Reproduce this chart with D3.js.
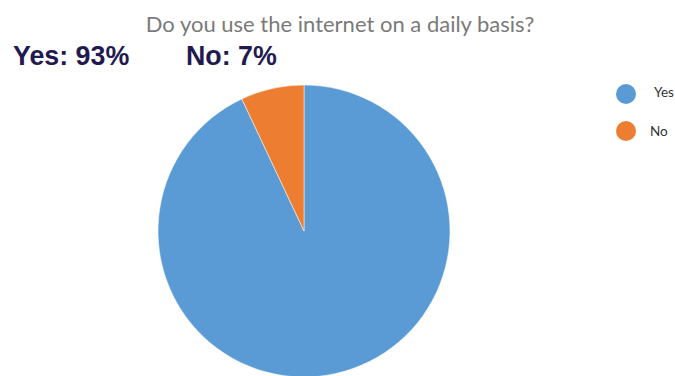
<!DOCTYPE html>
<html>
<head>
<meta charset="utf-8">
<script src="https://cdn.jsdelivr.net/npm/d3@7/dist/d3.min.js"></script>
<style>
  html, body { margin: 0; padding: 0; background: #fff; }
  svg { display: block; }
</style>
</head>
<body>
<svg id="chart" width="675" height="376"></svg>
<script>
// Survey answers (percent)
const categories = ["Yes", "No"];
const values = [93, 7];
const colors = ["#5b9bd5", "#ed7d31"];
const title = "Do you use the internet on a daily basis?";

const svg = d3.select("#chart");

// Title
svg.append("text")
  .attr("x", 340).attr("y", 32)
  .attr("text-anchor", "middle")
  .attr("font-family", "Lato, 'Open Sans', sans-serif")
  .attr("font-size", 22)
  .attr("fill", "#7a7a7a")
  .text(title);

// Summary labels beneath the title
const summaryX = [13, 186];
svg.selectAll("text.summary")
  .data(categories)
  .join("text")
  .attr("class", "summary")
  .attr("x", (d, i) => summaryX[i])
  .attr("y", 65)
  .attr("font-family", "'Liberation Sans', Arial, sans-serif")
  .attr("font-weight", "bold")
  .attr("font-size", 26.8)
  .attr("fill", "#221a4f")
  .text((d, i) => `${d}: ${values[i]}%`);

// Pie
const cx = 304, cy = 231, r = 146;
const pie = d3.pie().sort(null).value(d => d.value);
const arc = d3.arc().innerRadius(0).outerRadius(r);
const color = d3.scaleOrdinal().domain(categories).range(colors);
const data = categories.map((c, i) => ({ name: c, value: values[i] }));

svg.append("g")
  .attr("transform", `translate(${cx},${cy})`)
  .selectAll("path")
  .data(pie(data))
  .join("path")
  .attr("d", arc)
  .attr("fill", d => color(d.data.name))
  .attr("stroke", "#ffffff")
  .attr("stroke-width", 0.5);

// Legend
const legend = svg.append("g").attr("transform", "translate(626,94)");
const items = legend.selectAll("g")
  .data(categories)
  .join("g")
  .attr("transform", (d, i) => `translate(0,${i * 37})`);
items.append("circle")
  .attr("r", 10)
  .attr("fill", d => color(d));
items.append("text")
  .attr("x", (d, i) => i === 0 ? 28 : 24)
  .attr("y", (d, i) => i === 0 ? -2 : 0)
  .attr("dy", "0.35em")
  .attr("font-family", "Lato, 'Open Sans', sans-serif")
  .attr("font-size", 13.5)
  .attr("fill", "#333")
  .text(d => d);
</script>
</body>
</html>
